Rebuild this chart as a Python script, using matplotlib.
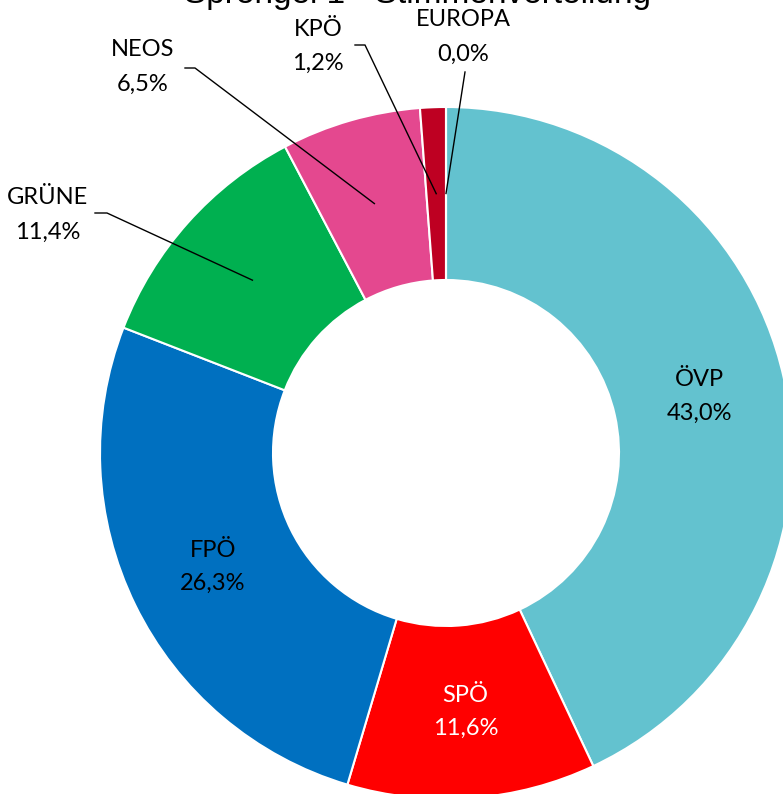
import numpy as np
import matplotlib
matplotlib.use("Agg")
import matplotlib.pyplot as plt

# Daten: Stimmenverteilung Sprengel 1
parteien = ["ÖVP", "SPÖ", "FPÖ", "GRÜNE", "NEOS", "KPÖ", "EUROPA"]
anteile = [43.0, 11.6, 26.3, 11.4, 6.5, 1.2, 0.0]
farben = ["#63C2CF", "#FF0000", "#0070C0", "#00B050", "#E4488F", "#BE0022", "#BE0022"]

plt.rcParams['font.family'] = ['Lato', 'DejaVu Sans']

W, H = 783, 794
fig = plt.figure(figsize=(W / 100, H / 100), dpi=100)
ax = fig.add_axes([0, 0, 1, 1])

# Mittelpunkt und Radius in Pixeln (Diagramm ragt rechts/unten etwas heraus)
cx, cy, R = 446, H - 453, 346

wedges, _ = ax.pie(anteile, colors=farben, startangle=90, counterclock=False,
                   radius=R, center=(cx, cy),
                   wedgeprops=dict(width=R / 2, edgecolor="white", linewidth=1.5))
ax.set_xlim(0, W)
ax.set_ylim(0, H)
ax.set_aspect("auto")
ax.axis("off")

def fmt(v):
    return f"{v:.1f}%".replace(".", ",")

# Mittelwinkel jedes Segments
winkel = []
start = 90.0
for v in anteile:
    ende = start - 360 * v / sum(anteile)
    winkel.append(np.radians((start + ende) / 2))
    start = ende

def punkt(i, f=0.75):
    return cx + f * R * np.cos(winkel[i]), cy + f * R * np.sin(winkel[i])

FS = 17

# Beschriftungen im Ring
for i in [0, 1, 2]:
    x, y = punkt(i)
    farbe = "white" if parteien[i] == "SPÖ" else "black"
    ax.text(x, y + 16.5, parteien[i], ha="center", va="center", fontsize=FS, color=farbe)
    ax.text(x, y - 16.5, fmt(anteile[i]), ha="center", va="center", fontsize=FS, color=farbe)

# Beschriftungen außen mit Führungslinien
aussen = {
    "GRÜNE": ((48, 215), (95, 213), (107, 213)),
    "NEOS": ((143, 67), (185, 68), (195, 68)),
    "KPÖ": ((318, 46), (355, 45), (365, 45)),
    "EUROPA": ((463, 37), (465, 72), (465, 72)),
}
for name, (txt, p1, p2) in aussen.items():
    i = parteien.index(name)
    ax.text(txt[0], H - txt[1] + 17, name, ha="center", va="center", fontsize=FS)
    ax.text(txt[0], H - txt[1] - 17, fmt(anteile[i]), ha="center", va="center", fontsize=FS)
    x, y = punkt(i)
    ax.plot([p1[0], p2[0], x], [H - p1[1], H - p2[1], y], color="black", lw=1)

# Titel ragt oben aus dem Bild (wie im Original)
ax.text(418, H - 3, "Sprengel 1 - Stimmenverteilung", ha="center", va="baseline",
        fontsize=24, color="black", family="Liberation Sans")

fig.savefig("out.png", dpi=100)
